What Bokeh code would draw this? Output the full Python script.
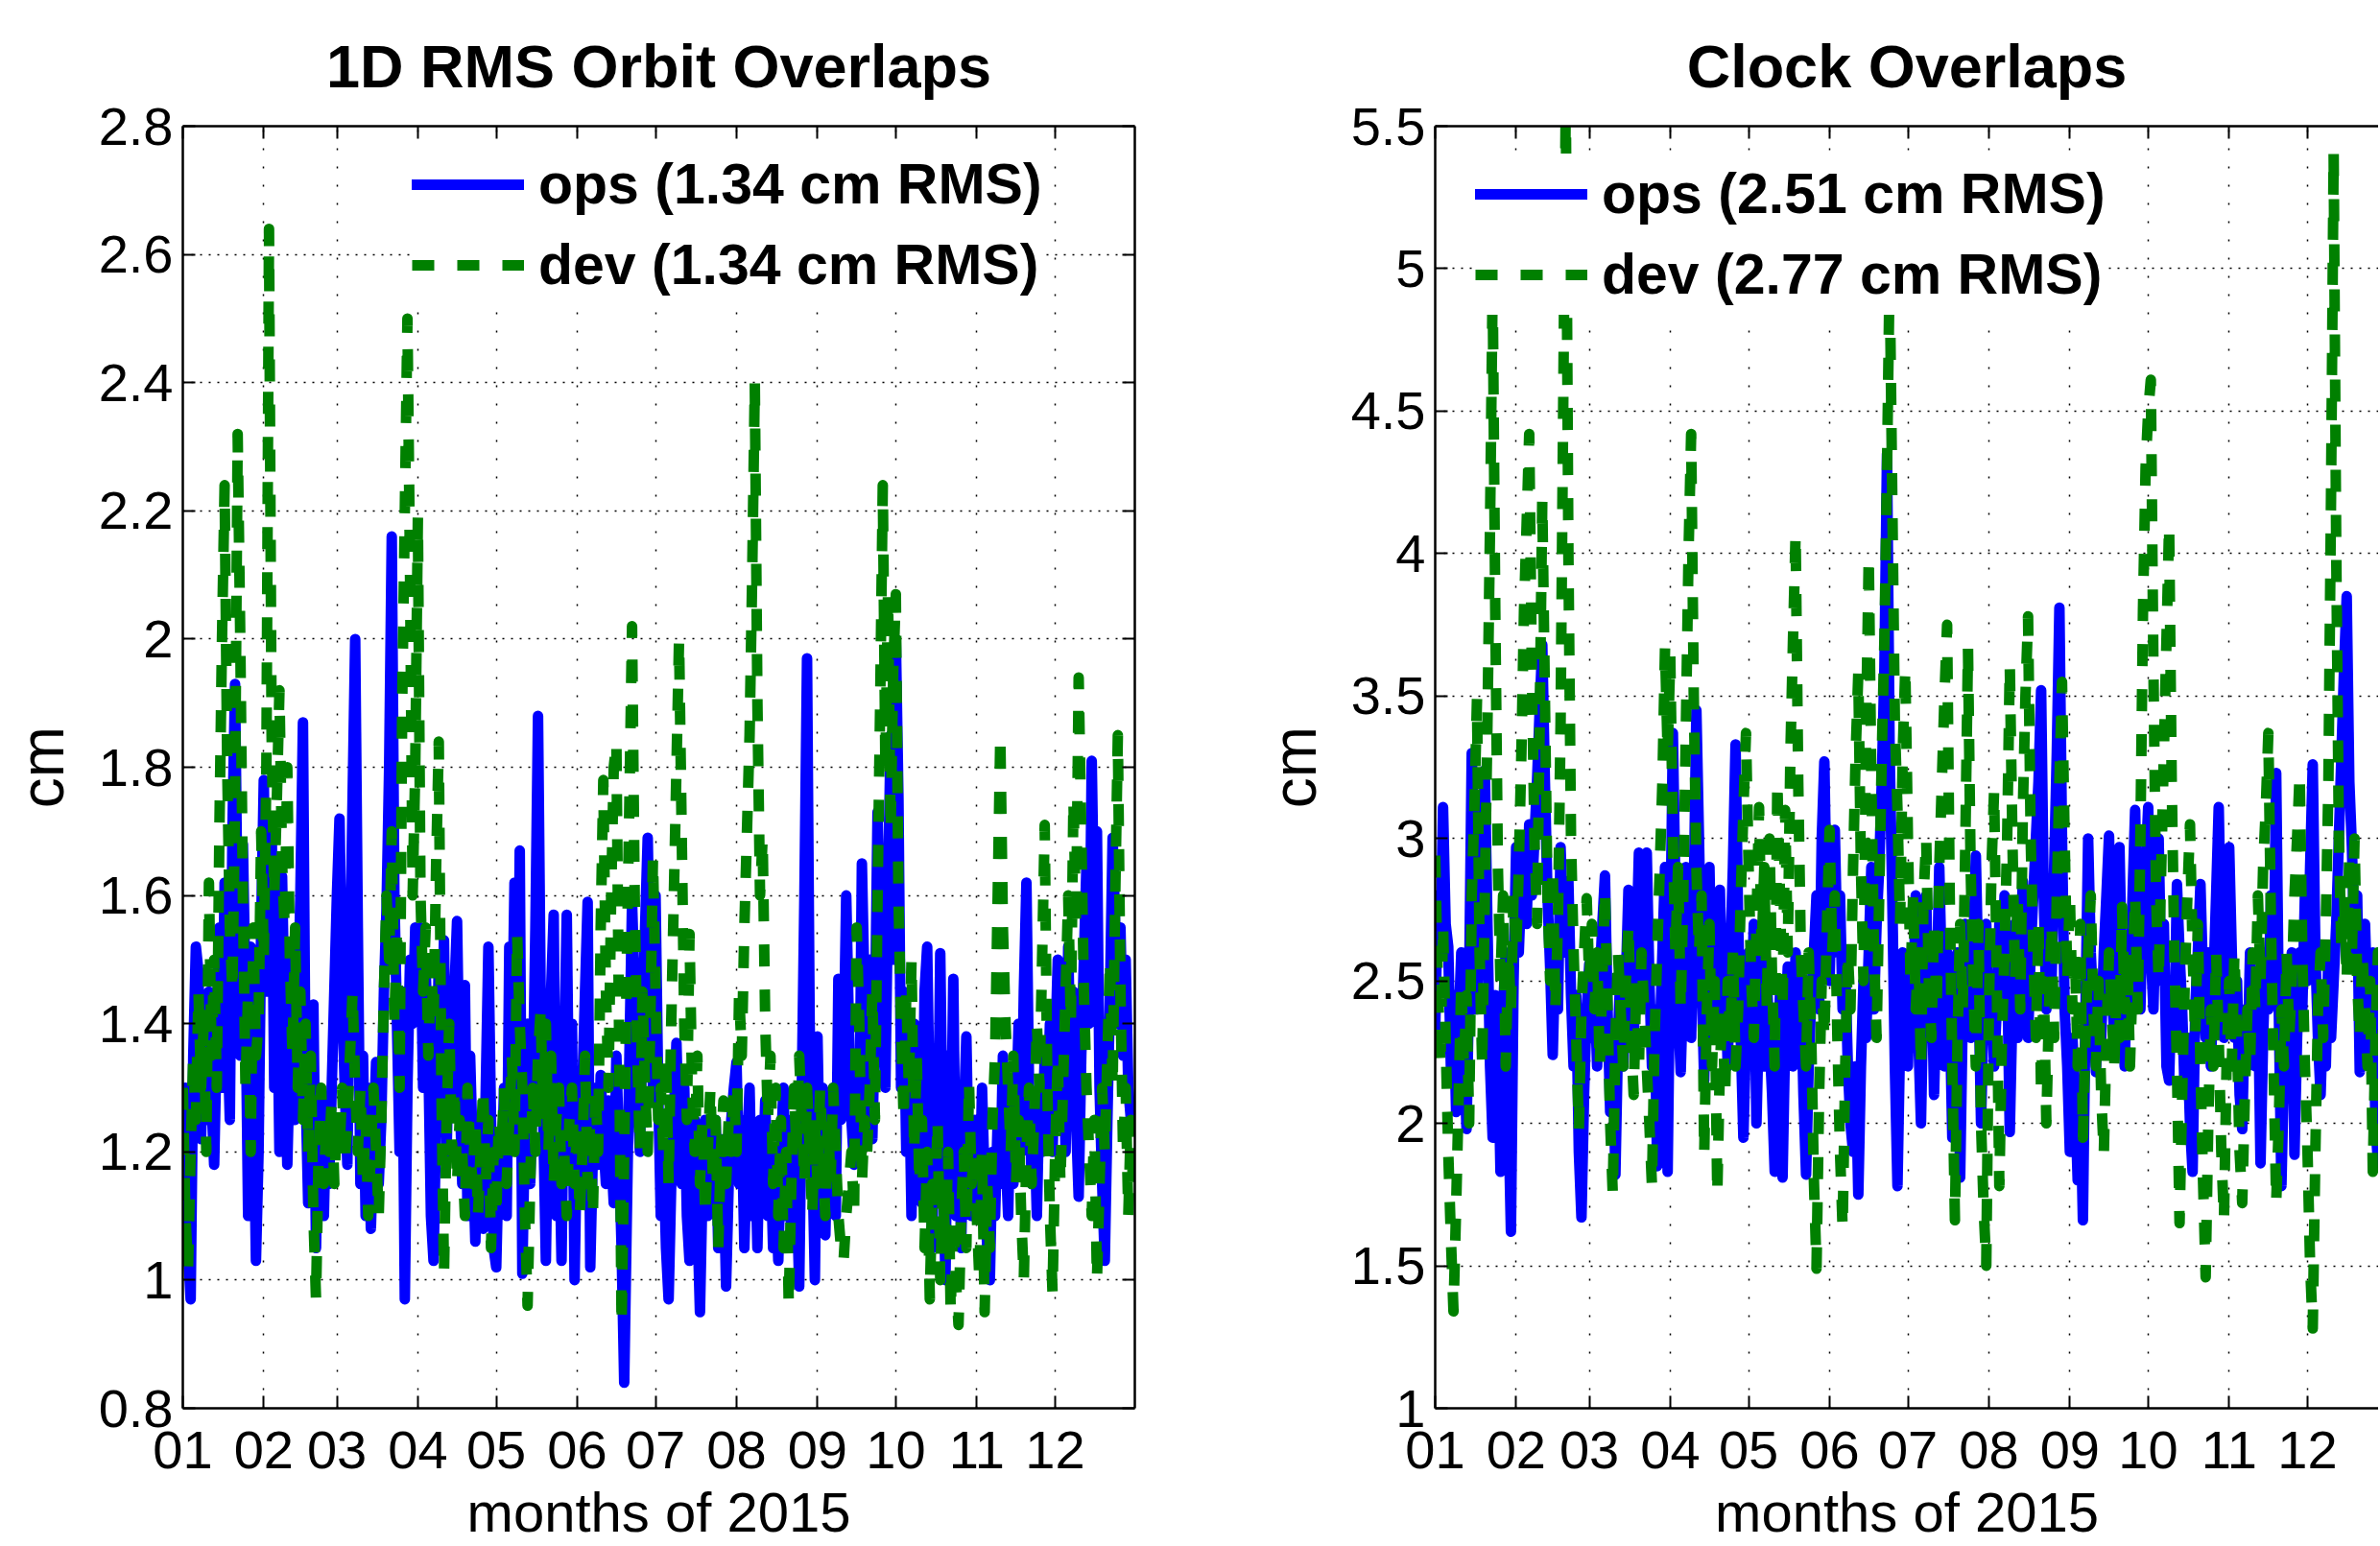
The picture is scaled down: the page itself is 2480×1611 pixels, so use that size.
from bokeh.plotting import figure
from bokeh.layouts import row
from bokeh.models import Range1d, FixedTicker, LinearAxis, Legend, LegendItem, ColumnDataSource
from bokeh.embed import file_html
from bokeh.resources import INLINE

# ---------------- data (daily values, day 0 = 1 Jan 2015) ----------------
month_start_days = [0, 31, 59, 90, 120, 151, 181, 212, 243, 273, 304, 334]
month_labels = ["01", "02", "03", "04", "05", "06", "07", "08", "09", "10", "11", "12"]

orbit_ticks = [0.8, 1.0, 1.2, 1.4, 1.6, 1.8, 2.0, 2.2, 2.4, 2.6, 2.8]
orbit_tick_labels = ["0.8", "1", "1.2", "1.4", "1.6", "1.8", "2", "2.2", "2.4", "2.6", "2.8"]
clock_ticks = [1.0, 1.5, 2.0, 2.5, 3.0, 3.5, 4.0, 4.5, 5.0, 5.5]
clock_tick_labels = ["1", "1.5", "2", "2.5", "3", "3.5", "4", "4.5", "5", "5.5"]

orbit_ops = [
    1.21,1.30,1.05,0.97,1.35,1.52,1.48,1.22,1.40,1.25,1.45,1.28,1.18,1.38,1.55,1.30,1.62,1.40,1.25,1.70,1.93,1.55,1.35,1.68,1.45,1.10,1.52,1.30,1.03,1.20,1.55,
    1.78,1.45,1.62,1.72,1.30,1.50,1.20,1.63,1.40,1.18,1.35,1.50,1.25,1.40,1.60,1.87,1.30,1.12,1.25,1.43,1.05,1.30,1.20,1.10,1.28,1.15,1.30,1.45,
    1.60,1.72,1.45,1.30,1.18,1.50,1.75,2.00,1.55,1.15,1.35,1.10,1.30,1.08,1.22,1.34,1.15,1.25,1.45,1.58,1.80,2.16,1.60,1.40,1.20,1.45,0.97,1.30,1.50,1.40,1.55,
    1.45,1.55,1.30,1.48,1.35,1.10,1.03,1.25,1.50,1.35,1.53,1.20,1.40,1.28,1.45,1.56,1.30,1.15,1.46,1.10,1.35,1.20,1.06,1.25,1.15,1.08,1.30,1.52,1.25,1.05,
    1.02,1.20,1.15,1.30,1.10,1.52,1.35,1.62,1.20,1.67,1.01,1.25,1.40,1.15,1.30,1.55,1.88,1.45,1.25,1.03,1.30,1.45,1.57,1.10,1.25,1.03,1.35,1.57,1.20,1.40,1.00,
    1.25,1.15,1.30,1.45,1.59,1.02,1.20,1.30,1.18,1.32,1.22,1.15,1.28,1.20,1.12,1.35,1.20,1.05,0.84,1.10,1.35,1.59,1.45,1.30,1.20,1.40,1.55,1.69,1.45,1.30,
    1.60,1.30,1.10,1.20,1.05,0.97,1.15,1.25,1.37,1.20,1.15,1.30,1.10,1.03,1.20,1.25,1.10,0.95,1.15,1.25,1.10,1.20,1.15,1.25,1.05,1.22,1.18,0.99,1.15,1.25,1.30,
    1.34,1.15,1.25,1.05,1.20,1.30,1.10,1.22,1.05,1.25,1.15,1.28,1.10,1.20,1.05,1.15,1.03,1.20,1.30,1.10,1.25,1.05,1.20,1.15,0.99,1.30,1.60,1.97,1.40,1.20,1.00,
    1.38,1.15,1.30,1.07,1.25,1.20,1.30,1.10,1.47,1.25,1.35,1.60,1.40,1.25,1.18,1.30,1.20,1.65,1.45,1.25,1.50,1.22,1.40,1.73,1.55,1.40,1.30,1.60,1.85,1.50,
    2.00,1.75,1.30,1.45,1.20,1.35,1.10,1.40,1.20,1.30,1.12,1.45,1.52,1.25,1.05,1.35,1.15,1.51,1.20,1.00,1.35,1.15,1.47,1.10,1.30,1.05,1.25,1.38,1.15,1.10,1.25,
    1.20,1.10,1.30,1.15,1.05,1.00,1.20,1.10,1.25,1.15,1.35,1.20,1.10,1.30,1.15,1.25,1.40,1.20,1.45,1.62,1.30,1.15,1.25,1.10,1.30,1.20,1.35,1.25,1.40,1.20,
    1.35,1.50,1.25,1.40,1.20,1.52,1.30,1.45,1.25,1.13,1.35,1.50,1.65,1.40,1.81,1.55,1.70,1.30,1.15,1.03,1.25,1.45,1.69,1.55,1.40,1.55,1.35,1.50,1.30,1.25,1.25,
]

orbit_dev = [
    1.30,1.10,1.02,1.20,1.35,1.25,1.45,1.30,1.40,1.20,1.62,1.35,1.50,1.30,1.70,2.00,2.24,1.80,1.55,1.45,1.75,2.32,2.00,1.60,1.30,1.45,1.20,1.55,1.35,1.40,1.70,
    1.50,1.80,2.64,1.85,1.60,1.75,1.92,1.65,1.55,1.80,1.50,1.35,1.55,1.30,1.45,1.25,1.40,1.20,1.35,1.10,0.97,1.20,1.30,1.15,1.25,1.20,1.28,1.15,
    1.25,1.20,1.30,1.18,1.25,1.35,1.45,1.30,1.20,1.30,1.15,1.25,1.10,1.20,1.30,1.20,1.10,1.25,1.45,1.60,1.50,1.70,1.40,1.55,1.30,1.90,2.20,2.50,2.10,1.60,1.80,
    2.19,1.60,1.45,1.55,1.35,1.50,1.40,1.65,1.84,1.30,1.01,1.25,1.40,1.20,1.30,1.15,1.25,1.20,1.10,1.30,1.20,1.15,1.25,1.10,1.20,1.30,1.15,1.25,1.05,1.20,
    1.10,1.25,1.20,1.30,1.15,1.25,1.35,1.20,1.54,1.40,1.30,1.10,0.96,1.15,1.30,1.20,1.35,1.42,1.25,1.40,1.20,1.35,1.15,1.25,1.30,1.15,1.20,1.10,1.25,1.30,1.15,
    1.25,1.10,1.20,1.35,1.15,1.25,1.10,1.30,1.20,1.55,1.78,1.45,1.30,1.60,1.80,1.84,1.40,0.93,1.20,1.50,1.75,2.02,1.60,1.35,1.20,1.45,1.30,1.20,1.40,1.66,
    1.45,1.25,1.30,1.20,1.35,1.15,1.40,1.60,1.80,2.00,1.70,1.40,1.25,1.54,1.30,1.20,1.35,1.15,1.25,1.10,1.20,1.30,1.15,1.25,1.05,1.20,1.28,1.15,1.25,1.20,1.30,
    1.20,1.45,1.35,1.55,1.70,1.85,2.10,2.40,1.90,1.60,1.69,1.40,1.25,1.35,1.15,1.30,1.10,1.25,1.05,1.20,0.96,1.15,1.30,1.20,1.35,1.25,1.15,1.30,1.20,1.10,1.25,
    1.15,1.30,1.20,1.10,1.25,1.15,1.30,1.20,1.10,1.05,1.03,1.10,1.15,1.20,1.10,1.55,1.40,1.15,1.25,1.20,1.30,1.45,1.25,1.60,1.90,2.24,1.80,2.07,1.70,1.95,
    2.07,1.60,1.40,1.25,1.45,1.30,1.50,1.20,1.35,1.15,1.25,1.05,1.20,0.97,1.15,1.10,1.25,1.00,1.15,1.05,1.20,0.95,1.10,1.00,0.93,1.10,1.20,1.05,1.31,1.15,1.20,
    1.10,1.00,1.20,0.95,1.15,1.05,1.25,1.35,1.60,1.85,1.55,1.40,1.30,1.20,1.35,1.15,1.25,1.10,1.00,1.20,1.30,1.15,1.25,1.40,1.30,1.50,1.71,1.30,1.10,0.98,
    1.20,1.35,1.15,1.30,1.45,1.60,1.40,1.75,1.55,1.94,1.70,1.45,1.30,1.20,1.10,1.25,1.00,1.15,1.30,1.20,1.35,1.50,1.30,1.60,1.85,1.45,1.20,1.30,1.10,1.25,1.12,
]

clock_ops = [
    2.33,2.80,2.60,3.11,2.70,2.62,2.20,2.45,2.04,2.35,2.60,2.25,1.98,2.50,3.30,2.90,2.40,2.70,2.90,3.24,2.70,2.20,1.95,2.45,2.30,1.83,2.40,2.60,2.05,1.62,2.50,
    2.97,2.60,2.85,3.00,2.70,3.05,2.80,3.00,3.20,3.45,3.68,3.20,2.80,2.55,2.24,2.60,2.40,2.97,2.70,2.60,2.85,2.45,2.20,2.45,1.90,1.67,2.10,2.40,
    2.56,2.30,2.50,2.20,2.50,2.70,2.87,2.40,2.04,2.30,1.82,2.30,2.55,2.20,2.50,2.82,2.60,2.30,2.60,2.95,2.50,2.70,2.95,2.50,2.20,2.40,1.85,2.30,2.60,2.90,1.83,
    2.60,3.37,2.80,2.40,2.18,2.50,2.90,2.60,2.30,2.80,3.45,3.00,2.50,2.15,2.60,2.90,2.40,2.30,2.65,2.82,2.40,2.55,2.20,2.60,2.90,3.33,2.70,2.30,1.95,2.30,
    2.60,2.40,2.70,2.00,2.40,2.60,2.20,2.50,2.30,2.10,1.83,2.20,2.45,1.81,2.30,2.55,2.47,2.20,2.60,2.35,2.50,2.10,1.82,2.20,2.45,2.60,2.80,2.40,3.00,3.27,2.70,
    2.50,2.90,3.03,2.60,2.80,2.40,2.55,2.20,2.00,1.90,2.20,1.75,2.20,2.50,2.30,2.60,2.90,2.40,2.70,2.90,3.20,3.60,4.35,3.30,2.80,2.20,1.78,2.30,2.60,2.40,
    2.20,2.60,2.40,2.80,2.30,2.00,2.50,2.80,2.30,2.60,2.10,2.45,2.90,2.50,2.20,2.60,2.40,1.95,2.30,2.60,1.81,2.40,2.70,2.50,2.30,2.60,2.94,2.50,2.00,2.40,2.70,
    2.30,2.50,2.20,2.40,2.70,2.50,2.80,2.55,1.97,2.40,2.70,2.30,2.60,2.85,2.50,2.30,2.60,2.80,3.00,3.20,3.52,2.80,2.40,2.70,2.50,2.90,3.30,3.81,3.00,2.40,2.20,
    1.90,2.30,2.10,1.80,2.10,1.66,2.40,3.00,2.60,2.40,2.18,2.50,2.30,2.60,2.80,3.01,2.50,2.30,2.70,2.97,2.50,2.20,2.60,2.40,2.80,3.10,2.60,2.40,2.80,2.90,
    3.11,2.60,2.40,2.80,3.00,2.50,2.70,2.20,2.15,2.50,2.30,2.84,2.60,2.40,2.10,2.30,2.00,1.83,2.40,2.60,2.84,2.50,2.30,2.60,2.20,2.50,2.80,3.11,2.60,2.30,2.50,
    2.97,2.60,2.30,2.50,2.10,1.98,2.40,2.20,2.60,2.40,2.20,2.50,1.86,2.30,2.60,2.40,2.80,2.50,3.23,2.40,1.78,2.20,2.50,2.30,2.60,1.89,2.30,2.60,2.40,2.80,
    2.50,2.90,3.26,2.60,2.30,2.10,2.40,2.20,2.60,2.30,2.50,2.70,3.00,3.30,3.60,3.85,3.20,2.97,2.60,2.80,2.18,2.50,2.70,2.40,2.20,2.60,2.00,1.86,2.30,2.40,2.30,
]

clock_dev = [
    2.94,2.50,2.20,2.70,2.30,1.90,1.60,1.34,1.70,2.10,2.50,2.20,2.45,2.00,2.80,3.10,3.49,2.60,2.20,2.80,3.40,4.10,4.95,3.80,2.90,2.50,2.80,2.20,2.60,2.40,2.80,
    2.60,2.90,3.30,3.80,4.10,4.42,3.60,3.00,2.70,3.40,4.19,3.50,2.80,2.50,2.90,2.40,2.70,3.40,4.50,5.60,4.00,3.00,2.60,2.30,1.98,2.40,2.60,2.79,
    2.50,2.70,2.40,2.60,2.20,2.50,2.82,2.40,2.00,1.75,2.30,2.60,2.40,2.20,2.50,2.70,2.30,2.10,2.50,2.20,2.60,2.40,2.20,2.00,1.78,2.30,2.60,2.90,3.20,3.67,3.30,
    3.64,3.00,2.60,2.90,2.40,2.80,3.40,4.00,4.42,3.50,2.90,2.60,2.80,1.89,2.40,2.70,2.20,2.50,1.75,2.20,2.40,2.10,2.50,2.30,2.60,2.20,2.40,2.80,3.10,3.37,
    2.90,2.50,2.30,2.70,3.11,2.60,2.90,2.40,3.00,2.50,2.20,3.20,2.80,2.40,3.10,2.60,3.30,3.70,4.07,3.20,2.60,2.40,2.20,2.60,2.30,1.80,1.49,2.10,2.50,2.30,2.70,
    3.03,2.60,2.80,2.30,1.90,1.63,2.20,2.60,2.40,2.90,3.30,3.58,2.90,2.50,3.40,3.99,3.20,2.60,2.30,2.80,3.30,3.70,4.30,5.00,4.20,3.40,3.10,2.70,3.30,3.60,
    3.00,2.50,2.80,2.40,2.60,2.20,2.80,3.00,2.50,2.30,2.70,2.40,2.90,3.20,3.50,3.75,2.80,2.20,1.66,2.30,2.70,2.40,3.00,3.67,2.90,2.50,2.20,2.70,2.00,1.70,1.50,
    2.40,2.90,3.17,2.50,1.78,2.30,2.60,3.00,3.61,3.00,2.50,2.80,2.40,3.10,3.50,3.78,3.00,2.60,2.30,2.70,2.10,2.50,2.00,2.40,2.70,2.30,2.80,3.20,3.55,3.00,2.50,
    2.80,2.40,2.60,2.20,2.70,1.95,2.30,2.60,2.80,2.40,2.20,2.50,2.10,1.89,2.30,2.60,2.40,2.20,2.50,2.30,2.76,2.40,2.60,2.20,2.50,2.80,2.40,3.00,3.80,4.30,
    4.50,4.61,3.60,2.80,2.50,2.90,3.30,3.70,4.10,3.20,2.60,2.20,1.65,2.10,2.50,2.80,3.05,2.60,2.30,2.70,2.20,1.80,1.46,2.00,2.40,2.20,2.60,2.30,1.90,1.66,2.20,
    2.50,2.20,2.60,2.30,1.90,1.72,2.10,2.40,2.20,2.60,2.40,2.80,2.50,2.90,3.10,3.37,2.70,2.20,1.72,2.00,2.40,2.20,2.60,2.30,2.50,2.80,3.00,3.23,2.60,2.20,
    1.90,1.50,1.28,1.90,2.40,2.60,2.30,2.70,3.20,4.20,5.41,4.00,3.00,2.60,2.80,2.50,2.95,2.60,3.00,2.50,2.30,2.60,2.40,2.20,2.50,1.83,2.30,2.60,2.40,2.30,2.50,
]

orbit_labels = ["ops (1.34 cm RMS)", "dev (1.34 cm RMS)"]
clock_labels = ["ops (2.51 cm RMS)", "dev (2.77 cm RMS)"]
x_axis_title = "months of 2015"
y_axis_title = "cm"

# ---------------- styling ----------------
FONT = "Liberation Sans"
BLUE = "#0000FF"
GREEN = "#008000"
TICK_FS = "56px"
FIG_H = 1610
FRAME_TOP = 131
FRAME_BOTTOM = 1470


def style_axis(ax, ticks, labels, show):
    ax.ticker = FixedTicker(ticks=ticks)
    ax.major_tick_in = 13
    ax.major_tick_out = 0
    ax.minor_tick_line_color = None
    ax.major_tick_line_width = 2
    ax.major_tick_line_color = "black"
    ax.axis_line_width = 2.5
    ax.axis_line_color = "black"
    if show:
        ax.major_label_overrides = dict(zip(ticks, labels))
        ax.major_label_text_font = FONT
        ax.major_label_text_font_size = TICK_FS
        ax.major_label_text_color = "black"
    else:
        ax.major_label_overrides = {t: "" for t in ticks}
        ax.major_label_text_font_size = "1px"
        ax.major_label_standoff = 0


def make_panel(title, ops, dev, labels, yticks, ylabels, yrange, x_end,
               width, border_left, border_right, legend_loc, right_axis):
    p = figure(width=width, height=FIG_H, output_backend="svg", toolbar_location=None,
               x_range=Range1d(0, x_end), y_range=Range1d(*yrange),
               min_border_left=border_left, min_border_right=border_right,
               min_border_top=FRAME_TOP, min_border_bottom=FIG_H - FRAME_BOTTOM)
    p.outline_line_color = None
    p.background_fill_color = "white"
    p.border_fill_color = "white"

    p.title.text = title
    p.title.text_font = FONT
    p.title.text_font_size = "63px"
    p.title.text_font_style = "bold"
    p.title.text_color = "black"
    p.title.align = "center"
    p.title.standoff = 56

    style_axis(p.xaxis[0], month_start_days, month_labels, True)
    p.xaxis.major_label_standoff = 24
    p.xaxis.axis_label = x_axis_title
    p.xaxis.axis_label_standoff = 10
    p.xaxis.axis_label_text_font = FONT
    p.xaxis.axis_label_text_font_size = "58px"
    p.xaxis.axis_label_text_font_style = "normal"
    p.xaxis.axis_label_text_color = "black"

    style_axis(p.yaxis[0], yticks, ylabels, True)
    p.yaxis.major_label_standoff = 10
    p.yaxis.axis_label = y_axis_title
    p.yaxis.axis_label_standoff = 20
    p.yaxis.axis_label_text_font = FONT
    p.yaxis.axis_label_text_font_size = "64px"
    p.yaxis.axis_label_text_font_style = "normal"
    p.yaxis.axis_label_text_color = "black"

    top = LinearAxis()
    style_axis(top, month_start_days, month_labels, False)
    p.add_layout(top, "above")
    if right_axis:
        rgt = LinearAxis()
        style_axis(rgt, yticks, ylabels, False)
        p.add_layout(rgt, "right")

    p.xgrid.grid_line_color = "black"
    p.xgrid.grid_line_dash = "2 17"
    p.xgrid.grid_line_width = 1.5
    p.ygrid.grid_line_color = "black"
    p.ygrid.grid_line_dash = "2 7"
    p.ygrid.grid_line_width = 1.5

    src = ColumnDataSource(dict(day=list(range(len(ops))), ops=ops))
    src2 = ColumnDataSource(dict(day=list(range(len(dev))), dev=dev))
    r_ops = p.line("day", "ops", source=src, line_color=BLUE, line_width=11,
                   line_join="round", line_cap="round")
    r_dev = p.line("day", "dev", source=src2, line_color=GREEN, line_width=11,
                   line_dash="23 24", line_join="round")

    legend = Legend(items=[LegendItem(label=labels[0], renderers=[r_ops]),
                           LegendItem(label=labels[1], renderers=[r_dev])],
                    location=legend_loc, glyph_width=117, glyph_height=84,
                    label_height=84, label_standoff=15, spacing=0, padding=10, margin=0,
                    label_text_font=FONT, label_text_font_size="59px",
                    label_text_font_style="bold", label_text_color="black",
                    border_line_color=None,
                    background_fill_color="white", background_fill_alpha=1.0)
    p.add_layout(legend)
    return p


p1 = make_panel("1D RMS Orbit Overlaps", orbit_ops, orbit_dev, orbit_labels,
                orbit_ticks, orbit_tick_labels, (0.8, 2.8), 364.5,
                1290, 190, 108, (239, 1149), True)
p2 = make_panel("Clock Overlaps", clock_ops, clock_dev, clock_labels,
                clock_ticks, clock_tick_labels, (1.0, 5.5), 983 / 2.7215,
                1188, 205, 0, (42, 1139), False)

layout = row(p1, p2)
open("out.html", "w").write(file_html(layout, INLINE))
